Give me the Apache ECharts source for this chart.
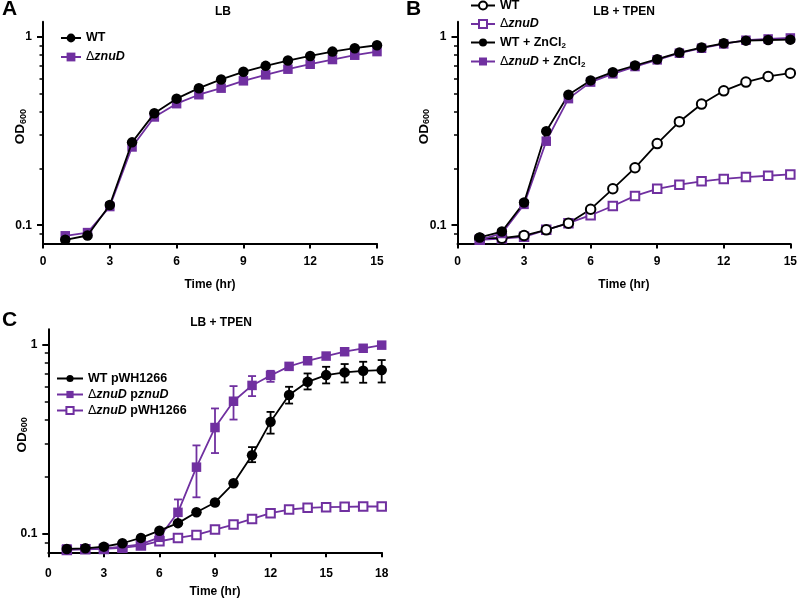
<!DOCTYPE html>
<html><head><meta charset="utf-8">
<script src="https://cdn.jsdelivr.net/npm/echarts@6/dist/echarts.min.js"></script>
<style>html,body{margin:0;padding:0;background:#fff}#c{width:800px;height:601px}</style>
</head><body><div id="c"></div><script>
// ---------- data ----------
const timeAB = [1,2,3,4,5,6,7,8,9,10,11,12,13,14,15];
const timeC = [1,2,3,4,5,6,7,8,9,10,11,12,13,14,15,16,17,18];
const yMin = 0.08, yMax = 1.2;
const yMajorTicks = [0.1, 1];
const yMinorTicks = [0.09,0.2,0.3,0.4,0.5,0.6,0.7,0.8,0.9];

// Panel A (LB)
const A_WT   = [0.0837,0.0882,0.128,0.275,0.392,0.469,0.533,0.593,0.651,0.700,0.747,0.790,0.833,0.868,0.900];
const A_znuD = [0.0879,0.0914,0.1256,0.260,0.375,0.441,0.492,0.533,0.583,0.627,0.672,0.714,0.756,0.797,0.833];

// Panel B (LB + TPEN)
const B_WT     = [0.0854,0.0854,0.0882,0.0945,0.1025,0.1216,0.156,0.2016,0.271,0.354,0.439,0.516,0.574,0.615,0.640];
const B_znuD   = [0.0837,0.0850,0.0868,0.0945,0.1025,0.113,0.1265,0.143,0.156,0.164,0.171,0.176,0.180,0.183,0.186];
const B_WTZn   = [0.0861,0.0926,0.132,0.315,0.492,0.586,0.648,0.703,0.759,0.823,0.875,0.922,0.952,0.960,0.964];
const B_znuDZn = [0.0837,0.0904,0.129,0.279,0.469,0.574,0.635,0.694,0.753,0.817,0.868,0.915,0.957,0.972,0.984];

// Panel C (LB + TPEN, complementation)
const C_WT    = [0.0833,0.0840,0.0857,0.0893,0.0953,0.104,0.114,0.130,0.1465,0.185,0.260,0.390,0.540,0.634,0.688,0.711,0.725,0.731];
const C_WT_lo = [null,null,null,null,null,null,null,null,null,null,0.239,0.338,0.487,0.578,0.622,0.629,0.627,0.629];
const C_WT_hi = [null,null,null,null,null,null,null,null,null,null,0.287,0.440,0.597,0.702,0.761,0.787,0.809,0.826];
const C_comp    = [0.0833,0.0833,0.0840,0.0857,0.0880,0.0960,0.130,0.225,0.364,0.501,0.607,0.685,0.765,0.819,0.867,0.914,0.953,0.990];
const C_comp_lo = [null,null,null,null,null,null,0.111,0.156,0.267,0.401,0.533,0.634,null,null,null,null,null,null];
const C_comp_hi = [null,null,null,null,null,null,0.152,0.293,0.459,0.602,0.680,0.725,null,null,null,null,null,null];
const C_empty = [0.0823,0.0829,0.0833,0.0845,0.0868,0.0915,0.0953,0.0988,0.1054,0.112,0.120,0.1286,0.1345,0.1373,0.1384,0.139,0.1395,0.1395];

// ---------- style ----------
const FONT = '"Liberation Sans", Arial, Helvetica, sans-serif';
const BLACK = '#000000';
const PURPLE = '#7030a0';

const legendLabels = {
  A_WT: 'WT',
  A_znuD: '{d|Δ}{i|znuD}',
  B_WT: 'WT',
  B_znuD: '{d|Δ}{i|znuD}',
  B_WTZn: 'WT + ZnCl{s|2}',
  B_znuDZn: '{d|Δ}{i|znuD}{b| + ZnCl}{s|2}',
  C_WT: 'WT pWH1266',
  C_comp: '{d|Δ}{i|znuD}{b| p}{i|znuD}',
  C_empty: '{d|Δ}{i|znuD}{b| pWH1266}'
};
const rich = {
  b: {fontFamily: FONT, fontWeight: 'bold', fontSize: 12.5, color: BLACK},
  d: {fontFamily: FONT, fontWeight: 'normal', fontSize: 12.5, color: BLACK},
  i: {fontFamily: FONT, fontWeight: 'bold', fontStyle: 'italic', fontSize: 12.5, color: BLACK},
  s: {fontFamily: FONT, fontWeight: 'bold', fontSize: 8, color: BLACK, verticalAlign: 'bottom', padding: [6,0,0,0]}
};

const grids = [
  {left: 43, top: 21.7, width: 334, height: 221.8},
  {left: 457.5, top: 21.7, width: 334.5, height: 221.8},
  {left: 48.3, top: 329.3, width: 333.4, height: 223}
];

function xAxis(gi, max, labelMargin, nameGap) {
  return {
    type: 'value', gridIndex: gi, min: 0, max: max, interval: 3,
    axisLine: {show: true, onZero: false, lineStyle: {color: BLACK, width: 2}},
    axisTick: {show: true, length: 5, lineStyle: {color: BLACK, width: 2}},
    axisLabel: {color: BLACK, fontFamily: FONT, fontWeight: 'bold', fontSize: 12, margin: labelMargin},
    splitLine: {show: false},
    name: 'Time (hr)', nameLocation: 'middle', nameGap: nameGap, nameMoveOverlap: false,
    nameTextStyle: {color: BLACK, fontFamily: FONT, fontWeight: 'bold', fontSize: 12}
  };
}
// main log axis: carries the data, major ticks and labels
function yMain(gi, nameGap) {
  return {
    type: 'log', logBase: 10, gridIndex: gi, position: 'left', min: yMin, max: yMax,
    axisLine: {show: true, lineStyle: {color: BLACK, width: 2}},
    axisTick: {show: true, customValues: yMajorTicks, length: 6, lineStyle: {color: BLACK, width: 2}},
    axisLabel: {customValues: yMajorTicks, color: BLACK, fontFamily: FONT, fontWeight: 'bold', fontSize: 12, margin: 11,
      formatter: v => String(Number(Number(v).toPrecision(3)))},
    splitLine: {show: false},
    name: '{o|OD}{s|600}', nameLocation: 'middle', nameGap: nameGap, nameMoveOverlap: false,
    nameTextStyle: {padding: [0,0,0,12], rich: {
      o: {fontFamily: FONT, fontWeight: 'bold', fontSize: 13.5, color: BLACK},
      s: {fontFamily: FONT, fontWeight: 'bold', fontSize: 9, color: BLACK, verticalAlign: 'bottom', padding: [6,0,0,0]}
    }}
  };
}
// second log axis on the same side: minor ticks only (2..9 within each decade)
function yMinor(gi) {
  return {
    type: 'log', logBase: 10, gridIndex: gi, position: 'left', min: yMin, max: yMax,
    axisLine: {show: false},
    axisTick: {show: true, customValues: yMinorTicks, length: 3.5, lineStyle: {color: BLACK, width: 1.5}},
    axisLabel: {show: false},
    splitLine: {show: false}
  };
}

function pairs(t, v) { return t.map((x, i) => [x, v[i]]); }
function lineSeries(name, xi, yi, t, v, color, symbol, size, z) {
  const empty = symbol.indexOf('empty') === 0;
  return {
    type: 'line', name: name, xAxisIndex: xi, yAxisIndex: yi, data: pairs(t, v),
    symbol: symbol, symbolSize: size, showSymbol: true, z: z,
    lineStyle: {color: color, width: 1.8},
    itemStyle: {color: color, borderColor: color, borderWidth: empty ? 1.6 : 0},
    emphasis: {disabled: true}, animation: false
  };
}
function errorSeries(xi, yi, t, lo, hi, color) {
  const data = [];
  t.forEach((x, i) => { if (lo[i] != null && hi[i] != null) data.push([x, lo[i], hi[i]]); });
  return {
    type: 'custom', xAxisIndex: xi, yAxisIndex: yi, data: data, z: 1,
    encode: {x: 0, y: [1, 2]}, silent: true, animation: false,
    renderItem: function (params, api) {
      const x = api.value(0);
      const p1 = api.coord([x, api.value(1)]);
      const p2 = api.coord([x, api.value(2)]);
      const w = 4;
      const st = {stroke: color, lineWidth: 1.8};
      return {type: 'group', children: [
        {type: 'line', shape: {x1: p1[0], y1: p1[1], x2: p2[0], y2: p2[1]}, style: st},
        {type: 'line', shape: {x1: p1[0]-w, y1: p1[1], x2: p1[0]+w, y2: p1[1]}, style: st},
        {type: 'line', shape: {x1: p2[0]-w, y1: p2[1], x2: p2[0]+w, y2: p2[1]}, style: st}
      ]};
    }
  };
}
function legend(names, left, top, iw, ih, gap) {
  return {
    data: names, orient: 'vertical', left: left, top: top, itemWidth: iw, itemHeight: ih, itemGap: gap,
    selectedMode: false, padding: 0,
    formatter: n => legendLabels[n],
    textStyle: {fontFamily: FONT, fontWeight: 'bold', fontSize: 12.5, color: BLACK, rich: rich}
  };
}
function title(text, left, top, size, align) {
  return {text: text, left: left, top: top, textAlign: align || 'left', padding: 0,
    textStyle: {fontFamily: FONT, fontWeight: 'bold', fontSize: size, color: BLACK}};
}

const option = {
  backgroundColor: '#ffffff',
  animation: false,
  title: [
    title('A', 2, -1, 21), title('B', 406, -1, 21), title('C', 2, 310, 21),
    title('LB', 223, 6, 12, 'center'), title('LB + TPEN', 624, 6, 12, 'center'), title('LB + TPEN', 221, 317, 12, 'center')
  ],
  legend: [
    legend(['A_WT', 'A_znuD'], 60, 31.5, 20, 11, 6),
    legend(['B_WT', 'B_znuD', 'B_WTZn', 'B_znuDZn'], 470, -1, 24, 10, 5.5),
    legend(['C_WT', 'C_comp', 'C_empty'], 56, 372, 26, 9, 3)
  ],
  grid: grids,
  xAxis: [xAxis(0, 15, 12, 35), xAxis(1, 15, 12, 35), xAxis(2, 18, 15, 33)],
  yAxis: [
    yMain(0, 15), yMinor(0),
    yMain(1, 26), yMinor(1),
    yMain(2, 19), yMinor(2)
  ],
  series: [
    lineSeries('A_znuD', 0, 0, timeAB, A_znuD, PURPLE, 'rect', 9.5, 2),
    lineSeries('A_WT', 0, 0, timeAB, A_WT, BLACK, 'circle', 10.5, 3),

    lineSeries('B_znuD', 1, 2, timeAB, B_znuD, PURPLE, 'emptyRect', 8.5, 2),
    lineSeries('B_WT', 1, 2, timeAB, B_WT, BLACK, 'emptyCircle', 9.5, 2),
    lineSeries('B_znuDZn', 1, 2, timeAB, B_znuDZn, PURPLE, 'rect', 9.5, 3),
    lineSeries('B_WTZn', 1, 2, timeAB, B_WTZn, BLACK, 'circle', 10.5, 3),

    errorSeries(2, 4, timeC, C_comp_lo, C_comp_hi, PURPLE),
    errorSeries(2, 4, timeC, C_WT_lo, C_WT_hi, BLACK),
    lineSeries('C_empty', 2, 4, timeC, C_empty, PURPLE, 'emptyRect', 8.5, 2),
    lineSeries('C_comp', 2, 4, timeC, C_comp, PURPLE, 'rect', 9.5, 3),
    lineSeries('C_WT', 2, 4, timeC, C_WT, BLACK, 'circle', 10.5, 3)
  ]
};
const chart = echarts.init(document.getElementById('c'));
chart.setOption(option);
</script></body></html>
